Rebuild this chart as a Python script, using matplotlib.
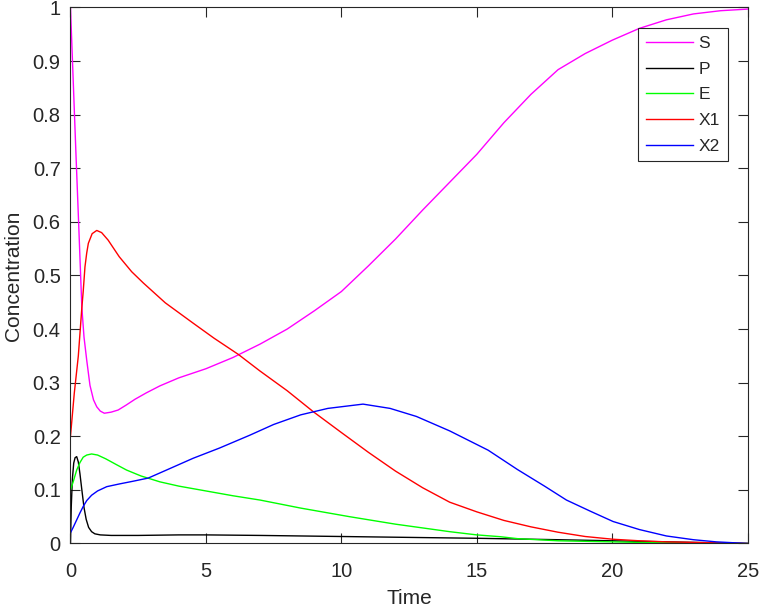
import matplotlib
matplotlib.use("Agg")
import matplotlib.pyplot as plt

# ---- data ----
t_S = [0, 0.1, 0.2, 0.3, 0.36, 0.42, 0.5, 0.6, 0.72, 0.85, 0.97, 1.1, 1.25, 1.5, 1.76, 2.05, 2.38, 2.8, 3.3, 4.0, 5.0, 6.0, 7.0, 8.0, 9.0, 10.0, 11.0, 12.0, 13.0, 14.0, 15.0, 16.0, 17.0, 18.0, 19.0, 20.0, 21.0, 22.0, 23.0, 24.0, 25]
v_S = [1.0, 0.865, 0.73, 0.60, 0.52, 0.44, 0.385, 0.342, 0.295, 0.268, 0.255, 0.247, 0.243, 0.245, 0.249, 0.258, 0.269, 0.281, 0.294, 0.309, 0.326, 0.347, 0.372, 0.400, 0.434, 0.470, 0.518, 0.568, 0.622, 0.674, 0.726, 0.785, 0.838, 0.884, 0.914, 0.939, 0.961, 0.977, 0.988, 0.994, 0.997]

t_P = [0, 0.03, 0.07, 0.12, 0.17, 0.23, 0.29, 0.35, 0.42, 0.5, 0.58, 0.67, 0.78, 0.9, 1.1, 1.5, 2.5, 4, 5, 7, 10, 13, 15, 18, 20, 22, 25]
v_P = [0.0, 0.07, 0.12, 0.15, 0.16, 0.162, 0.152, 0.13, 0.10, 0.067, 0.045, 0.030, 0.022, 0.018, 0.016, 0.015, 0.015, 0.016, 0.016, 0.015, 0.013, 0.011, 0.0097, 0.007, 0.005, 0.003, 0.0]

t_E = [0, 0.1, 0.23, 0.35, 0.47, 0.6, 0.78, 1.0, 1.3, 1.7, 2.07, 2.6, 3.3, 4.0, 5.0, 6.0, 7.0, 8.5, 10.3, 12.0, 14.0, 15.0, 15.85, 16.5, 18, 20, 22, 25]
v_E = [0.1, 0.115, 0.137, 0.151, 0.161, 0.165, 0.167, 0.165, 0.158, 0.147, 0.137, 0.126, 0.115, 0.107, 0.098, 0.089, 0.081, 0.066, 0.050, 0.036, 0.022, 0.016, 0.0127, 0.009, 0.005, 0.003, 0.001, 0.0]

t_X1 = [0, 0.14, 0.29, 0.42, 0.47, 0.535, 0.6, 0.66, 0.8, 0.97, 1.15, 1.39, 1.8, 2.26, 2.69, 3.5, 4.53, 5.3, 6.19, 6.99, 8.0, 8.96, 10.0, 11.0, 12.0, 13.0, 14.0, 15.0, 16.0, 17.0, 18.0, 19.0, 20.0, 21.0, 22.0, 23.0, 25]
v_X1 = [0.2, 0.28, 0.35, 0.44, 0.47, 0.516, 0.542, 0.560, 0.578, 0.584, 0.580, 0.566, 0.535, 0.507, 0.486, 0.449, 0.411, 0.383, 0.353, 0.322, 0.285, 0.246, 0.207, 0.170, 0.135, 0.104, 0.077, 0.059, 0.043, 0.031, 0.021, 0.013, 0.008, 0.005, 0.003, 0.002, 0.0]

t_X2 = [0, 0.1, 0.23, 0.35, 0.47, 0.6, 0.78, 1.0, 1.34, 1.8, 2.3, 2.87, 3.5, 4.53, 5.5, 6.62, 7.5, 8.5, 9.5, 10.8, 11.8, 12.77, 14.0, 15.42, 16.5, 17.5, 18.31, 19.2, 20.03, 21.0, 22.0, 23.0, 23.84, 25]
v_X2 = [0.02, 0.03, 0.044, 0.057, 0.069, 0.08, 0.090, 0.098, 0.106, 0.111, 0.116, 0.122, 0.136, 0.159, 0.178, 0.202, 0.222, 0.240, 0.252, 0.260, 0.252, 0.237, 0.210, 0.174, 0.138, 0.107, 0.081, 0.060, 0.041, 0.026, 0.014, 0.007, 0.003, 0.0]

series = [("S", t_S, v_S, "#ff00ff"),
          ("P", t_P, v_P, "#000000"),
          ("E", t_E, v_E, "#00ff00"),
          ("X1", t_X1, v_X1, "#ff0000"),
          ("X2", t_X2, v_X2, "#0000ff")]

x_ticks = [0, 5, 10, 15, 20, 25]
y_ticks = [0, 0.1, 0.2, 0.3, 0.4, 0.5, 0.6, 0.7, 0.8, 0.9, 1]
y_tick_labels = ["0", "0.1", "0.2", "0.3", "0.4", "0.5", "0.6", "0.7", "0.8", "0.9", "1"]

plt.rcParams['font.family'] = ['Liberation Sans', 'DejaVu Sans']
gray = "#262626"

fig = plt.figure(figsize=(7.61, 6.09), dpi=100)
ax = fig.add_axes([0.0926, 0.1076, 0.8899, 0.8801])

for name, t, v, c in series:
    ax.plot(t, v, color=c, lw=1.0, label=name)

ax.set_xlim(0, 25)
ax.set_ylim(0, 1)
ax.set_xticks(x_ticks)
ax.set_yticks(y_ticks)
ax.set_yticklabels(y_tick_labels)
ax.tick_params(direction='in', length=7, width=0.8, color=gray, labelcolor=gray,
               labelsize=14.5, top=True, right=True)
ax.tick_params(axis='x', pad=13)
ax.tick_params(axis='y', pad=7)
for sp in ax.spines.values():
    sp.set_color(gray)
    sp.set_linewidth(0.8)

ax.set_xlabel("Time", fontsize=15, color=gray, labelpad=6)
ax.set_ylabel("Concentration", fontsize=15, color=gray, labelpad=7)

leg = ax.legend(loc='upper right', bbox_to_anchor=(0.9705, 0.961), fontsize=12.5,
                frameon=True, fancybox=False, framealpha=1, edgecolor=gray,
                handlelength=2.7, handletextpad=0.33, labelspacing=0.6,
                borderpad=0.45, borderaxespad=0)
leg.get_frame().set_linewidth(0.8)
for txt in leg.get_texts():
    txt.set_color(gray)

fig.savefig("out.png", dpi=100)
